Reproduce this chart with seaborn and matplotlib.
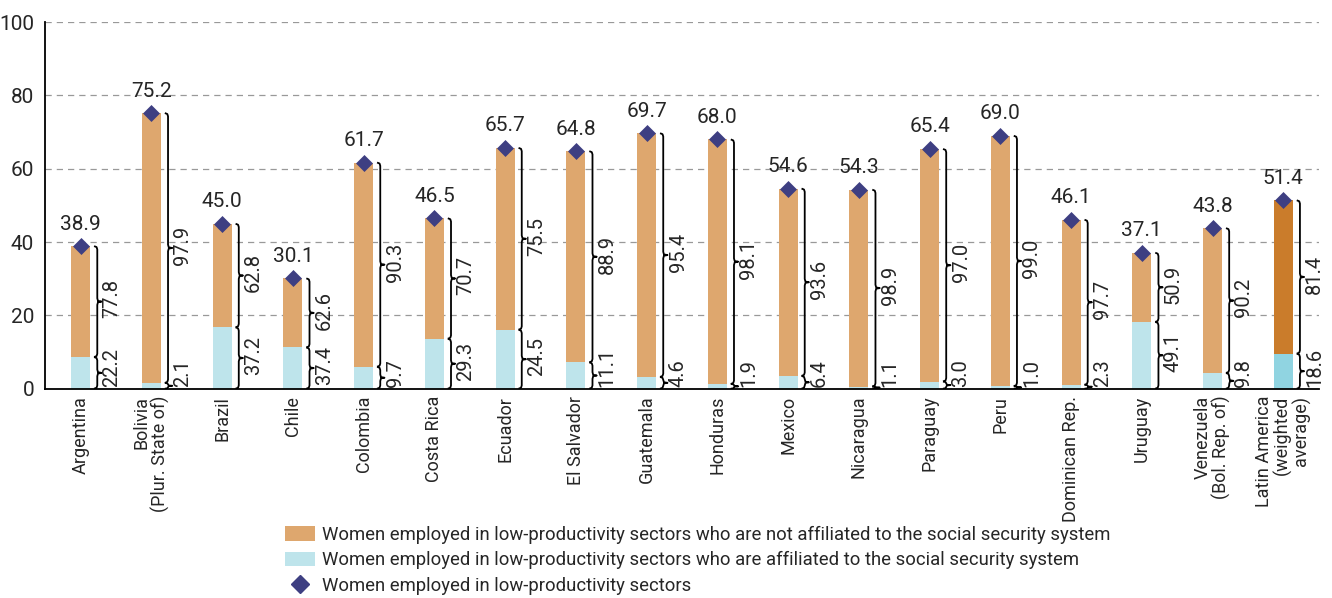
import numpy as np
import pandas as pd
import matplotlib
matplotlib.use("Agg")
import matplotlib.pyplot as plt
from matplotlib.patches import Patch
from matplotlib.lines import Line2D
import seaborn as sns

# data
countries = ["Argentina", "Bolivia\n(Plur. State of)", "Brazil", "Chile", "Colombia",
             "Costa Rica", "Ecuador", "El Salvador", "Guatemala", "Honduras", "Mexico",
             "Nicaragua", "Paraguay", "Peru", "Dominican Rep.", "Uruguay",
             "Venezuela\n(Bol. Rep. of)", "Latin America\n(weighted\naverage)"]
total = [38.9, 75.2, 45.0, 30.1, 61.7, 46.5, 65.7, 64.8, 69.7, 68.0, 54.6, 54.3,
         65.4, 69.0, 46.1, 37.1, 43.8, 51.4]
not_affiliated = [77.8, 97.9, 62.8, 62.6, 90.3, 70.7, 75.5, 88.9, 95.4, 98.1, 93.6,
                  98.9, 97.0, 99.0, 97.7, 50.9, 90.2, 81.4]
affiliated = [22.2, 2.1, 37.2, 37.4, 9.7, 29.3, 24.5, 11.1, 4.6, 1.9, 6.4, 1.1,
              3.0, 1.0, 2.3, 49.1, 9.8, 18.6]

df = pd.DataFrame({"country": countries, "total": total,
                   "not_aff": not_affiliated, "aff": affiliated})
df["aff_height"] = df["total"] * df["aff"] / 100

sns.set_style("white")
plt.rcParams["font.family"] = ["Roboto", "DejaVu Sans"]
plt.rcParams["font.size"] = 15

orange = "#DEA76E"
blue = "#BEE4EB"
orange_avg = "#CA7C2B"
blue_avg = "#90D4E1"
navy = "#3E3F82"

n = len(df)
pal_top = {c: (orange_avg if i == n - 1 else orange) for i, c in enumerate(countries)}
pal_bot = {c: (blue_avg if i == n - 1 else blue) for i, c in enumerate(countries)}

fig = plt.figure(figsize=(13.32, 5.98), dpi=100)
ax = fig.add_axes([0.034, 0.35, 0.956, 0.613])

sns.barplot(data=df, x="country", y="total", hue="country", palette=pal_top,
            width=0.27, legend=False, ax=ax, saturation=1, linewidth=0)
sns.barplot(data=df, x="country", y="aff_height", hue="country", palette=pal_bot,
            width=0.27, legend=False, ax=ax, saturation=1, linewidth=0)
ax.scatter(np.arange(n), df["total"], marker="D", s=75, color=navy, zorder=5,
           linewidths=0)

for i, t in enumerate(df["total"]):
    ax.annotate(f"{t:.1f}", (i, t), xytext=(0, 9), textcoords="offset points",
                ha="center", va="bottom", fontsize=15)


def brace(x, y0, y1):
    h = y1 - y0
    d = min(0.9, h / 4)
    mid = (y0 + y1) / 2
    xs = [x - 0.045, x - 0.01, x, x, x + 0.01, x + 0.06, x + 0.01, x, x, x - 0.01, x - 0.045]
    ys = [y0, y0 + d * 0.3, y0 + d, mid - d, mid - d * 0.2, mid, mid + d * 0.2,
          mid + d, y1 - d, y1 - d * 0.3, y1]
    ax.plot(xs, ys, color="black", lw=1.3, solid_capstyle="butt", zorder=4)


def brace_label(x, y0, y1, txt):
    mid = (y0 + y1) / 2
    h = len(txt) * 2.3
    yb = max(mid - h / 2, 0.4)
    ax.text(x, yb, txt, rotation=90, ha="left", va="bottom", fontsize=14.5)


for i, r in df.iterrows():
    bx = i + 0.235
    brace(bx, 0, r["aff_height"])
    brace(bx, r["aff_height"], r["total"])
    brace_label(i + 0.31, r["aff_height"], r["total"], f"{r['not_aff']:.1f}")
    brace_label(i + 0.31, 0, r["aff_height"], f"{r['aff']:.1f}")

ax.set_xlim(-0.5, n - 0.5)
ax.set_ylim(0, 100)
ax.set_yticks([0, 20, 40, 60, 80, 100])
ax.yaxis.grid(True, linestyle=(0, (5, 4)), color="#999999", lw=0.9)
ax.set_axisbelow(True)
for s in ["top", "right"]:
    ax.spines[s].set_visible(False)
for s in ["left", "bottom"]:
    ax.spines[s].set_color("black")
    ax.spines[s].set_linewidth(1.3)
ax.set_xlabel("")
ax.set_ylabel("")
ax.set_xticks(np.arange(n))
ax.set_xticklabels(countries, rotation=90, ha="center", va="top",
                   multialignment="right", fontsize=13, linespacing=1.0)
ax.set_xticks(np.arange(n + 1) - 0.5, minor=True)
ax.tick_params(axis="x", which="major", length=0, pad=5)
ax.tick_params(axis="x", which="minor", length=6, width=1.2, direction="out", color="black")
ax.tick_params(axis="y", length=6, width=1.2, direction="out", color="black", labelsize=15, pad=2)

handles = [Patch(facecolor=orange, edgecolor="none"),
           Patch(facecolor=blue, edgecolor="none"),
           Line2D([], [], marker="D", color=navy, ls="none", markersize=9)]
labels = ["Women employed in low-productivity sectors who are not affiliated to the social security system",
          "Women employed in low-productivity sectors who are affiliated to the social security system",
          "Women employed in low-productivity sectors"]
fig.legend(handles, labels, loc="upper left", bbox_to_anchor=(0.207, 0.136),
           frameon=False, fontsize=13.3, handlelength=1.65, handleheight=0.85,
           handletextpad=0.35, labelspacing=0.4, borderpad=0)

fig.savefig("out.png", dpi=100)
